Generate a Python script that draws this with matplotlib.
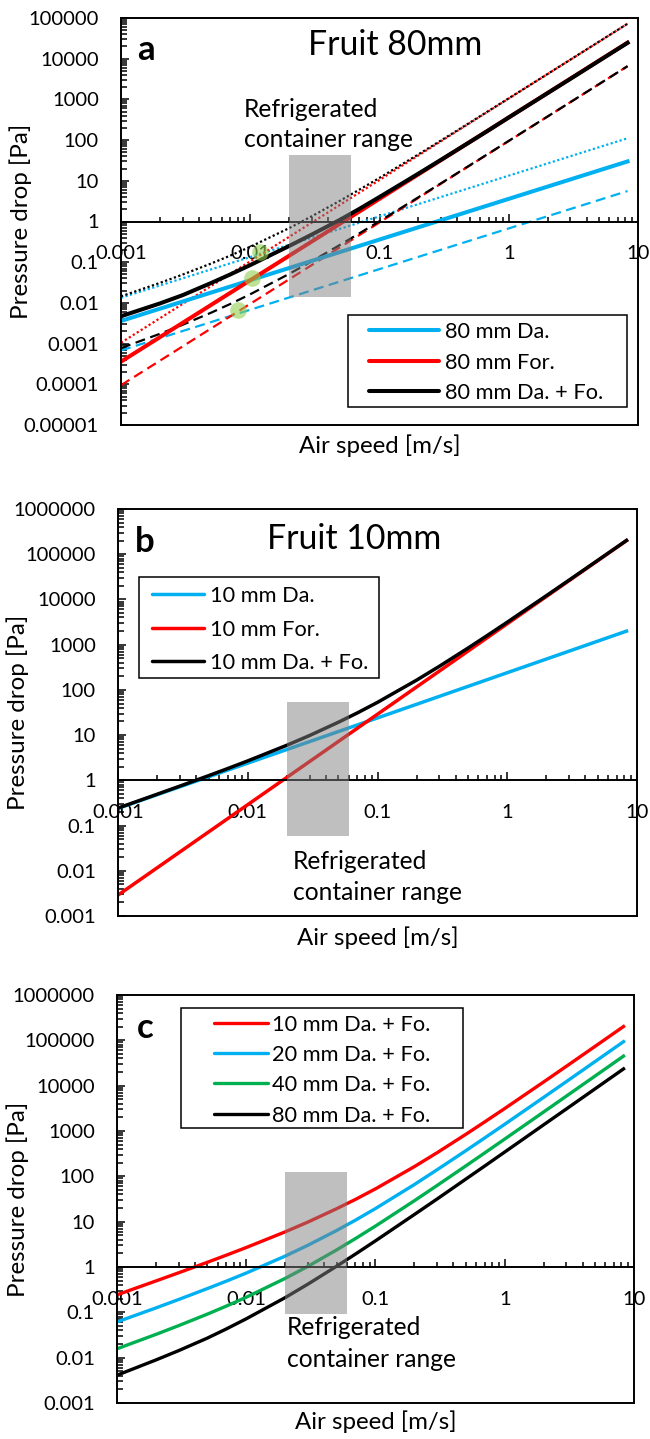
import numpy as np
import matplotlib
matplotlib.use("Agg")
import matplotlib.pyplot as plt
from matplotlib.patches import Rectangle
from matplotlib.lines import Line2D
from matplotlib.font_manager import FontProperties
from matplotlib.ticker import LogLocator, FuncFormatter, NullFormatter

FAMILY = ['Lato', 'DejaVu Sans']
plt.rcParams['font.family'] = FAMILY
plt.rcParams['xtick.labelsize'] = 14.5
plt.rcParams['ytick.labelsize'] = 14.5

W, H = 650, 1439

BLUE = '#00B0F0'
RED = '#FF0000'
GREEN = '#00B050'
BLACK = '#000000'

# air speed [m/s]: end points for the straight power laws, denser grid for the combined curves
line_speed = [0.001, 8.3]
speed = [0.001, 0.002, 0.003, 0.005, 0.007, 0.01, 0.02, 0.03, 0.05, 0.07,
         0.1, 0.2, 0.3, 0.5, 0.7, 1, 2, 3, 5, 8.3]

# --- a: 80 mm fruit (dotted = high, solid = mid, dashed = low estimate)
a_da_hi = [0.0134, 111]
a_fo_hi = [0.00105, 72330]
a_da_mid = [0.0036, 29.9]
a_fo_mid = [0.00036, 24800]
a_da_lo = [0.00068, 5.6]
a_fo_lo = [0.000095, 6545]
a_sum_hi = [0.0145, 0.031, 0.0497, 0.0933, 0.145, 0.239, 0.688, 1.35, 3.30, 6.08,
            11.8, 44.7, 98.5, 269, 524, 1063, 4227, 9490, 26320, 72440]
a_sum_mid = [0.0047, 0.0097, 0.0155, 0.031, 0.05, 0.085, 0.25, 0.48, 1.12, 2.05,
             4.0, 15, 33, 90, 175, 360, 1430, 3200, 8900, 24500]
a_sum_lo = [0.000775, 0.00174, 0.0029, 0.00578, 0.0094, 0.0163, 0.0516, 0.106, 0.272, 0.513,
            1.018, 3.94, 8.75, 24.1, 47.0, 95.7, 381, 857, 2378, 6550]
# Darcy = Forchheimer crossover points
cross_x = [0.012, 0.0103, 0.008]
cross_y = [0.175, 0.042, 0.0068]

# --- b: 10 mm fruit
b_da = [0.24, 1992]
b_fo = [0.0029, 199800]
b_sum = [0.243, 0.492, 0.746, 1.27, 1.82, 2.69, 5.96, 9.81, 19.3, 31.0,
         53, 164, 333, 845, 1589, 3140, 12080, 26820, 73700, 201800]

# --- c: Darcy + Forchheimer for each fruit size
c_10 = [0.243, 0.492, 0.746, 1.27, 1.82, 2.69, 5.96, 9.81, 19.3, 31.0,
        53, 164, 333, 845, 1589, 3140, 12080, 26820, 73700, 201800]
c_20 = [0.0614, 0.125, 0.192, 0.334, 0.486, 0.735, 1.74, 3.02, 6.38, 10.8,
        19.5, 66, 140, 368, 704, 1410, 5520, 12330, 34050, 93500]
c_40 = [0.0157, 0.0326, 0.0509, 0.0913, 0.137, 0.215, 0.56, 1.035, 2.38, 4.24,
        8.0, 29, 63, 170, 329, 665, 2630, 5895, 16330, 44900]
c_80 = [0.0041, 0.0089, 0.0143, 0.027, 0.0429, 0.072, 0.211, 0.419, 1.04, 1.93,
        3.78, 14.4, 31.7, 87, 169, 344, 1370, 3071, 8520, 23450]

# axis decades
x_ticks = [0.001, 0.01, 0.1, 1, 10]
y_ticks_a = [1e-5, 1e-4, 1e-3, 1e-2, 0.1, 1, 10, 100, 1e3, 1e4, 1e5]
y_ticks_bc = [1e-3, 1e-2, 0.1, 1, 10, 100, 1e3, 1e4, 1e5, 1e6]

# refrigerated container air speed range and the box heights per panel
zone_x = [0.02, 0.06]
zone_y_a = [0.014, 43]
zone_y_b = [0.058, 53]
zone_y_c = [0.092, 125]

fig = plt.figure(figsize=(W / 100, H / 100), dpi=100)
renderer = fig.canvas.get_renderer()


def fit_size(s, width_px):
    # font size (pt) that makes string s about width_px wide
    w, _, _ = renderer.get_text_width_height_descent(
        s, FontProperties(family=FAMILY, size=10), ismath=False)
    return 10 * width_px / w


FS_LEGEND = fit_size("80 mm Da. + Fo.", 157)
FS_XLABEL = fit_size("Air speed [m/s]", 162)
FS_YLABEL = fit_size("Pressure drop [Pa]", 195)
FS_NOTE = fit_size("container range", 170)
FS_TITLE = fit_size("Fruit 80mm", 174)


def fx(px):
    return px / W


def fy(py):
    return 1 - py / H


def tick_txt(v, pos):
    if v >= 1:
        return f"{v:.0f}"
    return f"{v:.{int(round(-np.log10(v)))}f}"


def make_axes(l, t, r, b, yticks):
    ax = fig.add_axes([fx(l), fy(b), (r - l) / W, (b - t) / H])
    ax.set_xscale('log')
    ax.set_yscale('log')
    ax.set_xticks(x_ticks)
    ax.set_yticks(yticks)
    ax.set_xlim(x_ticks[0], x_ticks[-1])
    ax.set_ylim(yticks[0], yticks[-1])
    # x axis crosses at 1 Pa, frame kept closed with a separate bottom line
    ax.spines['bottom'].set_position(('data', 1))
    for s in ax.spines.values():
        s.set_linewidth(1.4)
    ax.plot([0, 1], [0, 0], transform=ax.transAxes, color='k', lw=1.4,
            clip_on=False, solid_capstyle='projecting')
    for axis in (ax.xaxis, ax.yaxis):
        axis.set_minor_locator(LogLocator(base=10, subs=np.arange(2, 10), numticks=20))
        axis.set_major_formatter(FuncFormatter(tick_txt))
        axis.set_minor_formatter(NullFormatter())
    ax.tick_params(which='both', direction='in', width=1.1, labelsize=14.5, colors='k')
    ax.tick_params(axis='x', which='major', length=5.5, pad=17)
    ax.tick_params(axis='x', which='minor', length=3.5)
    ax.tick_params(axis='y', which='major', length=5.5, pad=16)
    ax.tick_params(axis='y', which='minor', length=4)
    return ax


def zone(ax, ys):
    ax.add_patch(Rectangle((zone_x[0], ys[0]), zone_x[1] - zone_x[0], ys[1] - ys[0],
                           facecolor='#808080', alpha=0.5, edgecolor='none', zorder=6))


def box_legend(l, t, r, b, rows, h0, h1, tx, items, lw):
    fig.add_artist(Rectangle((fx(l), fy(b)), (r - l) / W, (b - t) / H,
                             transform=fig.transFigure, facecolor='white',
                             edgecolor='k', lw=1.1, zorder=10))
    for y, (label, color) in zip(rows, items):
        fig.add_artist(Line2D([fx(h0), fx(h1)], [fy(y), fy(y)], color=color, lw=lw,
                              solid_capstyle='round', zorder=11))
        fig.text(fx(tx), fy(y + FS_LEGEND / 2), label, fontsize=FS_LEGEND,
                 va='baseline', zorder=12)


def labels(letter, lx, ly, cx, xb, ycx, ycy, refr_x, refr_b, title=None):
    fig.text(fx(lx), fy(ly), letter, fontsize=25, fontweight='bold', va='baseline')
    if title:
        fig.text(fx(title[0]), fy(title[1]), title[2], fontsize=FS_TITLE, va='baseline')
    for txt, yb in zip(["Refrigerated", "container range"], refr_b):
        fig.text(fx(refr_x), fy(yb), txt, fontsize=FS_NOTE, va='baseline', zorder=12)
    fig.text(fx(cx), fy(xb), "Air speed [m/s]", fontsize=FS_XLABEL, ha='center', va='baseline')
    fig.text(fx(ycx), fy(ycy), "Pressure drop [Pa]", fontsize=FS_YLABEL, rotation=90,
             ha='center', va='center')


# ---------------- a
ax = make_axes(121, 18, 638, 425, y_ticks_a)
dot = dict(lw=1.6, linestyle=(0, (1, 1.1)), dash_capstyle='butt')
dash = dict(lw=1.6, linestyle=(0, (4.5, 2.5)), dash_capstyle='butt')
ax.plot(line_speed, a_da_hi, color=BLUE, **dot)
ax.plot(line_speed, a_fo_hi, color=RED, **dot)
ax.plot(speed, a_sum_hi, color=BLACK, **dot)
ax.plot(line_speed, a_da_lo, color=BLUE, **dash)
ax.plot(line_speed, a_fo_lo, color=RED, **dash)
ax.plot(speed, a_sum_lo, color=BLACK, **dash)
ax.plot(line_speed, a_da_mid, color=BLUE, lw=2.9)
ax.plot(line_speed, a_fo_mid, color=RED, lw=2.9)
ax.plot(speed, a_sum_mid, color=BLACK, lw=2.9)
ax.plot(cross_x, cross_y, 'o', ms=12, color='#92D050', alpha=0.6, mec='none', zorder=5)
zone(ax, zone_y_a)
box_legend(348, 315, 627, 407, [330, 361, 391], 369, 439, 445,
           [("80 mm Da.", BLUE), ("80 mm For.", RED), ("80 mm Da. + Fo.", BLACK)], 2.9)
labels("a", 137, 60, 379.5, 453, 21, 221.5, 244, [117, 147], (308, 55, "Fruit 80mm"))

# ---------------- b
ax = make_axes(118, 509, 637, 916, y_ticks_bc)
ax.plot(line_speed, b_da, color=BLUE, lw=2.5)
ax.plot(line_speed, b_fo, color=RED, lw=2.5)
ax.plot(speed, b_sum, color=BLACK, lw=2.5)
zone(ax, zone_y_b)
box_legend(139, 577, 379, 678, [594, 628, 661], 152, 204, 210,
           [("10 mm Da.", BLUE), ("10 mm For.", RED), ("10 mm Da. + Fo.", BLACK)], 2.5)
labels("b", 135, 552, 377.5, 945, 18, 712.5, 293, [869, 900], (267, 549, "Fruit 10mm"))

# ---------------- c
ax = make_axes(117, 995, 634, 1403, y_ticks_bc)
ax.plot(speed, c_10, color=RED, lw=2.4)
ax.plot(speed, c_20, color=BLUE, lw=2.4)
ax.plot(speed, c_40, color=GREEN, lw=2.4)
ax.plot(speed, c_80, color=BLACK, lw=2.4)
zone(ax, zone_y_c)
box_legend(181, 1008, 463, 1128, [1023, 1053, 1083, 1114], 214, 268, 272,
           [("10 mm Da. + Fo.", RED), ("20 mm Da. + Fo.", BLUE),
            ("40 mm Da. + Fo.", GREEN), ("80 mm Da. + Fo.", BLACK)], 2.4)
labels("c", 137, 1038, 375.5, 1429, 18, 1199, 287, [1335, 1367])

fig.savefig("out.png", dpi=100)
